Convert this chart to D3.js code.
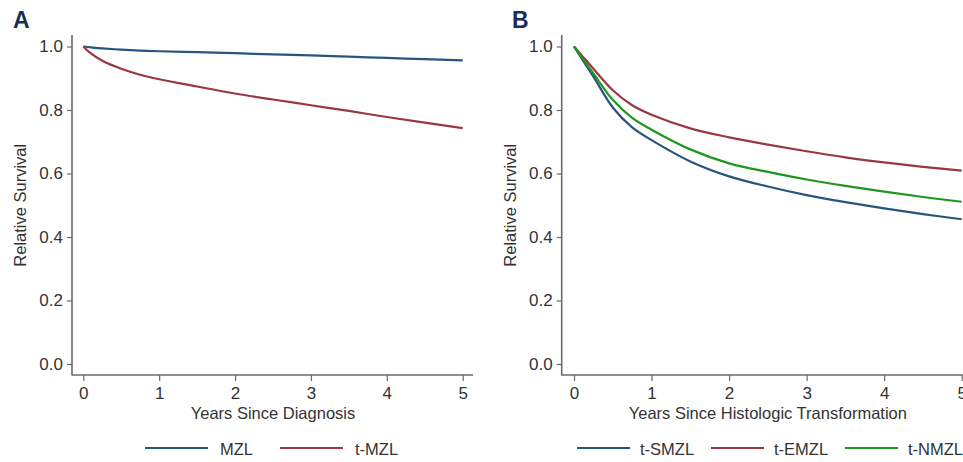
<!DOCTYPE html>
<html>
<head>
<meta charset="utf-8">
<script src="https://cdn.jsdelivr.net/npm/d3@7"></script>
<style>
  body { margin: 0; background: #fff; }
  svg { display: block; font-family: "Liberation Sans", Arial, sans-serif; }
</style>
</head>
<body>
<svg id="chart" width="963" height="462"></svg>
<script>
// years on the x axis
const years = [0, 0.1, 0.25, 0.5, 0.75, 1, 1.5, 2, 2.5, 3, 3.5, 4, 4.5, 5]

// panel A
const mzl   = [1.0, 0.997, 0.994, 0.990, 0.987, 0.985, 0.982, 0.979, 0.975, 0.972, 0.968, 0.964, 0.960, 0.956]
const tmzl  = [1.0, 0.978, 0.955, 0.930, 0.911, 0.897, 0.874, 0.852, 0.833, 0.815, 0.797, 0.778, 0.760, 0.743]

// panel B
const tsmzl = [1.0, 0.962, 0.905, 0.808, 0.745, 0.705, 0.638, 0.591, 0.559, 0.532, 0.510, 0.490, 0.472, 0.456]
const temzl = [1.0, 0.972, 0.930, 0.862, 0.815, 0.785, 0.742, 0.714, 0.691, 0.670, 0.651, 0.635, 0.621, 0.609]
const tnmzl = [1.0, 0.966, 0.915, 0.832, 0.775, 0.738, 0.676, 0.632, 0.605, 0.581, 0.561, 0.543, 0.526, 0.511]

const xTicks = [0, 1, 2, 3, 4, 5]
const yTicks = [0, 0.2, 0.4, 0.6, 0.8, 1.0]

const navy = '#26557f', maroon = '#9a3842', green = '#1f961f'

const svg = d3.select('#chart')

const drawPanel = p => {
	const g = svg.append('g')

	const xScale = d3.scaleLinear().domain([0, 5]).range([p.x0, p.x1])
	const yScale = d3.scaleLinear().domain([0, 1]).range([364, 46.5])

	// frame lines (Stata style, axes meet at bottom-left)
	g.append('line')
		.attr('x1', p.axisX).attr('x2', p.axisX)
		.attr('y1', 35).attr('y2', 375.5)
		.attr('stroke', '#6a6a6a').attr('stroke-width', 1.6)
	g.append('line')
		.attr('x1', p.axisX).attr('x2', p.axisEnd)
		.attr('y1', 375).attr('y2', 375)
		.attr('stroke', '#6a6a6a').attr('stroke-width', 1.6)

	const yAxis = d3.axisLeft(yScale)
		.tickValues(yTicks)
		.tickFormat(d3.format('.1f'))
		.tickSize(5)
		.tickPadding(4)

	const yAxisData = g.append('g')
		.attr('transform', `translate(${p.axisX}, 0)`)
		.call(yAxis)
	yAxisData.select('.domain').remove()
	yAxisData.selectAll('line').attr('stroke', '#6a6a6a').attr('stroke-width', 1.2)
	yAxisData.selectAll('text')
		.style('font-size', '17px').attr('fill', '#333')
		.style('font-family', '"Liberation Sans", Arial, sans-serif')

	const xAxis = d3.axisBottom(xScale)
		.tickValues(xTicks)
		.tickFormat(d3.format('d'))
		.tickSize(6)
		.tickPadding(6)

	const xAxisData = g.append('g')
		.attr('transform', 'translate(0, 375)')
		.call(xAxis)
	xAxisData.select('.domain').remove()
	xAxisData.selectAll('line').attr('stroke', '#6a6a6a').attr('stroke-width', 1.2)
	xAxisData.selectAll('text')
		.style('font-size', '17px').attr('fill', '#333')
		.style('font-family', '"Liberation Sans", Arial, sans-serif')

	// axis titles
	g.append('text')
		.text(p.xTitle)
		.attr('text-anchor', 'middle')
		.attr('x', (p.x0 + p.x1) / 2)
		.attr('y', 419)
		.attr('font-size', 16.5)
		.attr('fill', '#333')

	g.append('text')
		.text('Relative Survival')
		.attr('text-anchor', 'middle')
		.attr('transform', `translate(${p.axisX - 46}, ${yScale(0.5)}) rotate(-90)`)
		.attr('font-size', 16.5)
		.attr('fill', '#333')

	// panel letter
	g.append('text')
		.text(p.letter)
		.attr('x', p.letterX)
		.attr('y', 28)
		.attr('font-size', 23)
		.attr('font-weight', 'bold')
		.attr('fill', '#1b2c5c')
		.style('font-family', '"Liberation Sans", Arial, sans-serif')

	const line = d3.line()
		.x((d, i) => xScale(years[i]))
		.y(d => yScale(d))
		.curve(d3.curveCatmullRom.alpha(0.5))

	g.append('g').selectAll('path')
		.data(p.series)
		.enter().append('path')
		.attr('d', d => line(d.values))
		.attr('fill', 'none')
		.attr('stroke', d => d.color)
		.attr('stroke-width', 2.2)

	// legend
	const legend = g.append('g').selectAll('g')
		.data(p.series)
		.enter().append('g')
		.attr('transform', (d, i) => `translate(${p.legX + i * p.legStep}, 448)`)

	legend.append('line')
		.attr('x1', 0).attr('x2', p.legLen)
		.attr('y1', 0).attr('y2', 0)
		.attr('stroke', d => d.color)
		.attr('stroke-width', 2.2)

	legend.append('text')
		.text(d => d.name)
		.attr('x', p.legLen + p.legGap)
		.attr('y', 7)
		.attr('font-size', 16.5)
		.attr('fill', '#333')
}

drawPanel({
	letter: 'A', letterX: 13,
	axisX: 72, axisEnd: 473,
	x0: 83.3, x1: 462.7,
	xTitle: 'Years Since Diagnosis',
	legX: 145, legStep: 135, legLen: 63, legGap: 12,
	series: [
		{name: 'MZL', values: mzl, color: navy},
		{name: 't-MZL', values: tmzl, color: maroon}
	]
})

drawPanel({
	letter: 'B', letterX: 512,
	axisX: 561.7, axisEnd: 970,
	x0: 574, x1: 961.7,
	xTitle: 'Years Since Histologic Transformation',
	legX: 577, legStep: 134, legLen: 53, legGap: 10,
	series: [
		{name: 't-SMZL', values: tsmzl, color: navy},
		{name: 't-EMZL', values: temzl, color: maroon},
		{name: 't-NMZL', values: tnmzl, color: green}
	]
})
</script>
</body>
</html>
